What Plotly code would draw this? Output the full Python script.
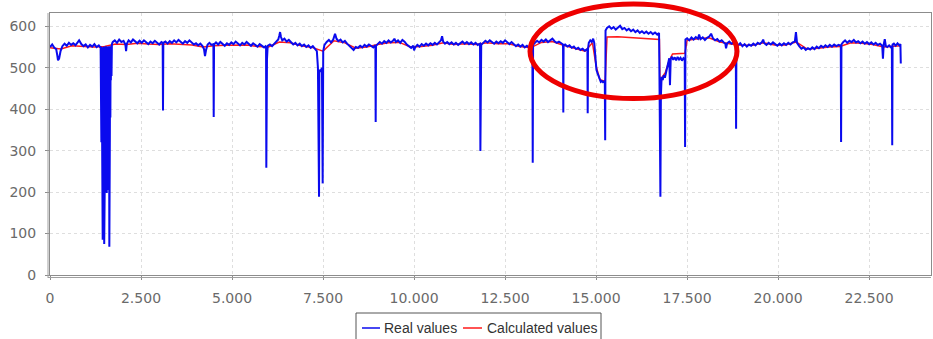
import plotly.graph_objects as go

# ---- series names -------------------------------------------------------
series_names = ["Real values", "Calculated values"]

# ---- measured signal, (sample index, value) pairs, per stretch -----------
seg_a = [(0, 550), (60, 556), (120, 548), (170, 545), (200, 530), (220, 518), (250, 522),
         (290, 540), (340, 552), (400, 558), (460, 553), (520, 560), (580, 555), (640, 559),
         (700, 554), (760, 563), (800, 566), (860, 557), (920, 552), (980, 556), (1040, 549),
         (1100, 555), (1160, 551), (1220, 557), (1280, 550), (1340, 554), (1380, 549)]
seg_b = [(1390, 552), (1397, 330), (1404, 548), (1411, 320), (1418, 550), (1425, 400),
         (1432, 546), (1440, 260), (1447, 85), (1454, 545), (1461, 280), (1468, 549),
         (1475, 240), (1482, 551), (1489, 75), (1496, 547), (1503, 210), (1510, 550),
         (1517, 205), (1524, 546), (1531, 200), (1538, 552), (1545, 215), (1552, 548),
         (1559, 198), (1566, 551), (1573, 205), (1580, 546), (1587, 230), (1594, 550),
         (1601, 260), (1608, 548), (1615, 300), (1622, 552), (1630, 68), (1637, 549),
         (1644, 330), (1651, 547), (1658, 380), (1665, 550), (1672, 470), (1680, 553),
         (1690, 480), (1700, 556), (1712, 560), (1725, 562)]
seg_c = [(1780, 566), (1840, 560), (1900, 568), (1960, 562), (2020, 565), (2070, 556),
         (2090, 540), (2110, 558), (2160, 566), (2220, 561), (2280, 568), (2340, 563),
         (2400, 559), (2460, 565), (2520, 560), (2580, 566), (2640, 561), (2700, 557),
         (2760, 563), (2820, 559), (2880, 565), (2940, 560), (3000, 556), (3060, 562),
         (3095, 560), (3104, 397), (3113, 560)]
seg_d = [(3170, 563), (3230, 558), (3290, 564), (3350, 560), (3410, 566), (3470, 561),
         (3530, 567), (3590, 562), (3650, 558), (3710, 564), (3770, 560), (3830, 566),
         (3890, 561), (3950, 556), (4010, 559), (4070, 554), (4130, 558), (4190, 552),
         (4230, 545), (4258, 528), (4285, 542), (4330, 556), (4380, 560), (4430, 555),
         (4488, 557), (4497, 381), (4506, 556)]
seg_e = [(4560, 561), (4620, 556), (4680, 562), (4740, 558), (4800, 553), (4860, 559),
         (4920, 555), (4980, 561), (5040, 557), (5100, 563), (5160, 558), (5220, 554),
         (5280, 560), (5340, 556), (5400, 562), (5460, 557), (5520, 553), (5580, 559),
         (5640, 555), (5700, 551), (5760, 557), (5820, 553), (5880, 549), (5920, 552),
         (5935, 550), (5942, 259), (5950, 505), (5960, 520), (5980, 553)]
seg_f = [(6040, 556), (6100, 552), (6160, 558), (6220, 563), (6270, 568), (6300, 578),
         (6320, 586), (6345, 574), (6380, 566), (6440, 570), (6500, 563), (6560, 567),
         (6620, 561), (6680, 556), (6740, 560), (6800, 554), (6860, 558), (6920, 552),
         (6980, 556), (7040, 550), (7100, 554), (7160, 548), (7220, 552), (7280, 546),
         (7330, 540), (7360, 500), (7390, 189), (7400, 495), (7430, 490), (7470, 500),
         (7490, 221), (7505, 540), (7540, 555)]
seg_g = [(7600, 562), (7660, 567), (7720, 561), (7780, 568), (7830, 582), (7870, 570),
         (7920, 564), (7980, 568), (8040, 561), (8100, 565), (8160, 558), (8220, 553),
         (8280, 547), (8340, 543), (8400, 550), (8460, 548), (8520, 553), (8580, 549),
         (8640, 555), (8700, 551), (8760, 556), (8820, 552), (8880, 549), (8920, 553),
         (8938, 552), (8946, 369), (8955, 553)]
seg_h = [(9000, 557), (9060, 562), (9120, 558), (9180, 564), (9240, 560), (9300, 566),
         (9360, 561), (9420, 565), (9460, 570), (9500, 562), (9560, 566), (9620, 560),
         (9680, 567), (9740, 563), (9800, 556), (9860, 551), (9920, 548), (9980, 553),
         (10000, 542), (10030, 549), (10090, 555), (10150, 551), (10210, 557), (10270, 553),
         (10330, 558), (10390, 554), (10450, 559), (10510, 555), (10570, 560), (10630, 556),
         (10690, 562), (10740, 566), (10770, 576), (10800, 563), (10850, 558), (10910, 562),
         (10970, 557), (11030, 561), (11090, 556), (11150, 560), (11210, 555), (11270, 559),
         (11330, 563), (11390, 558), (11450, 562), (11510, 557), (11570, 561), (11630, 556),
         (11690, 560), (11750, 555), (11800, 559), (11812, 558), (11822, 299), (11832, 466),
         (11845, 555)]
seg_i = [(11900, 560), (11960, 565), (12020, 561), (12080, 566), (12140, 562), (12200, 558),
         (12260, 563), (12320, 559), (12380, 564), (12440, 560), (12500, 566), (12560, 561),
         (12620, 557), (12680, 562), (12740, 556), (12800, 552), (12860, 556), (12920, 551),
         (12980, 555), (13040, 549), (13100, 553), (13160, 548), (13220, 552), (13250, 552),
         (13260, 271), (13270, 555)]
seg_j = [(13320, 560), (13380, 565), (13440, 561), (13500, 567), (13560, 563), (13620, 568),
         (13680, 562), (13740, 566), (13800, 570), (13860, 564), (13920, 560), (13980, 563),
         (14040, 558), (14080, 556), (14092, 556), (14100, 392), (14108, 554)]
seg_k = [(14150, 556), (14210, 551), (14270, 554), (14330, 548), (14390, 551), (14450, 545),
         (14510, 548), (14570, 543), (14630, 546), (14690, 541), (14740, 544), (14762, 543),
         (14770, 390), (14778, 545)]
seg_l = [(14800, 560), (14840, 566), (14880, 562), (14920, 570), (14950, 560), (14980, 530),
         (15010, 495), (15040, 487), (15070, 478), (15100, 470), (15130, 466), (15160, 468),
         (15190, 465), (15220, 467), (15240, 466), (15250, 325), (15260, 590)]
seg_m = [(15300, 596), (15360, 600), (15420, 594), (15480, 598), (15540, 592), (15600, 597),
         (15660, 601), (15720, 593), (15780, 596), (15840, 590), (15900, 594), (15960, 588),
         (16020, 592), (16080, 586), (16140, 590), (16200, 584), (16260, 588), (16320, 583),
         (16380, 587), (16440, 582), (16500, 586), (16560, 581), (16620, 585), (16680, 580),
         (16730, 584)]
seg_n = [(16745, 440), (16755, 237), (16767, 189), (16780, 430), (16800, 478), (16830, 470),
         (16860, 482), (16890, 476), (16920, 490), (16950, 500), (16980, 512), (17010, 523),
         (17030, 458), (17050, 520), (17080, 527), (17120, 519), (17160, 525), (17200, 518),
         (17240, 526), (17280, 520), (17320, 524), (17360, 517), (17400, 523), (17435, 520),
         (17445, 309), (17455, 568)]
seg_o = [(17500, 571), (17560, 566), (17620, 573), (17680, 568), (17740, 574), (17800, 570),
         (17830, 580), (17870, 569), (17930, 573), (17990, 567), (18050, 572), (18110, 575),
         (18160, 582), (18210, 571), (18270, 566), (18330, 569), (18390, 563), (18450, 566),
         (18510, 561), (18550, 558), (18570, 547), (18600, 559), (18660, 563), (18720, 558),
         (18780, 561), (18830, 558), (18838, 558), (18846, 353), (18855, 556)]
seg_p = [(18900, 554), (18960, 559), (19020, 552), (19080, 557), (19140, 551), (19200, 556),
         (19260, 553), (19320, 558), (19380, 554), (19440, 560), (19500, 557), (19560, 562),
         (19590, 568), (19620, 559), (19680, 555), (19740, 560), (19800, 556), (19860, 561),
         (19920, 557), (19980, 553), (20040, 558), (20100, 554), (20160, 559), (20220, 555),
         (20280, 560), (20340, 556), (20400, 561), (20460, 563), (20490, 586), (20520, 560),
         (20580, 552), (20640, 546), (20700, 549), (20760, 543), (20820, 547), (20880, 544),
         (20940, 549), (21000, 545), (21060, 551), (21120, 547), (21180, 553), (21240, 549),
         (21300, 554), (21360, 550), (21420, 555), (21480, 551), (21540, 556), (21600, 552),
         (21660, 555), (21710, 553), (21722, 553), (21730, 321), (21740, 556)]
seg_q = [(21780, 561), (21840, 566), (21900, 560), (21960, 565), (22020, 562), (22080, 567),
         (22140, 561), (22200, 564), (22260, 559), (22320, 563), (22380, 558), (22440, 562),
         (22500, 557), (22560, 561), (22620, 556), (22680, 560), (22740, 555), (22800, 558),
         (22860, 553), (22880, 522), (22900, 555), (22930, 569), (22960, 552), (23000, 550),
         (23050, 554), (23100, 549), (23125, 552), (23135, 313), (23145, 556), (23180, 558),
         (23230, 553), (23280, 559), (23330, 554), (23360, 557), (23370, 510)]

real_segments = [seg_a, seg_b, seg_c, seg_d, seg_e, seg_f, seg_g, seg_h, seg_i,
                 seg_j, seg_k, seg_l, seg_m, seg_n, seg_o, seg_p, seg_q]
real_x = [p[0] for s in real_segments for p in s]
real_y = [p[1] for s in real_segments for p in s]

# ---- model output -------------------------------------------------------
calc_x = [0, 300, 600, 900, 1200, 1500, 1800, 2100, 2400, 2700, 3000, 3300, 3600, 3900,
          4200, 4500, 4800, 5100, 5400, 5700, 6000, 6300, 6600, 6900, 7200, 7500, 7800,
          8100, 8400, 8700, 9000, 9300, 9600, 9900, 10200, 10500, 10800, 11100, 11400,
          11700, 12000, 12300, 12600, 12900, 13200, 13500, 13800, 14100, 14400, 14700,
          14900, 15000, 15100, 15200, 15250, 15300, 15600, 15900, 16200, 16500, 16740,
          16760, 16800, 16900, 17000, 17100, 17200, 17300, 17440, 17500, 17800, 18100,
          18400, 18700, 19000, 19300, 19600, 19900, 20200, 20500, 20800, 21100, 21400,
          21700, 22000, 22300, 22600, 22900, 23200, 23370]
calc_y = [548, 545, 553, 552, 550, 551, 557, 556, 559, 557, 556, 558, 557, 555,
          550, 553, 554, 555, 555, 551, 550, 562, 560, 553, 549, 540, 565,
          560, 547, 550, 556, 560, 561, 550, 551, 554, 560, 556, 558,
          556, 560, 558, 558, 551, 548, 561, 563, 554, 547, 540,
          560, 505, 472, 468, 470, 574, 575, 573, 571, 569, 568,
          430, 475, 488, 515, 533, 534, 535, 535, 566, 570, 572,
          562, 557, 554, 554, 560, 555, 555, 562, 545, 547, 550,
          551, 560, 559, 556, 550, 553, 553]

# ---- axes ---------------------------------------------------------------
x_ticks = [0, 2500, 5000, 7500, 10000, 12500, 15000, 17500, 20000, 22500]
y_ticks = [0, 100, 200, 300, 400, 500, 600]
x_range = [0, 24200]
y_range = [0, 632]

# plot-area placement in pixels (used for paper-space decorations)
W, H = 933, 339
ML, MR, MT, MB = 50, 2, 13, 64
PW, PH = W - ML - MR, H - MT - MB


def px(xp):
    return (xp - ML) / PW


def py(yp):
    return (H - MB - yp) / PH


fig = go.Figure()
fig.add_trace(go.Scatter(x=calc_x, y=calc_y, mode="lines", name=series_names[1],
                         line=dict(color="#ff1a1a", width=1.5), showlegend=False))
fig.add_trace(go.Scatter(x=real_x, y=real_y, mode="lines", name=series_names[0],
                         line=dict(color="#0a0aee", width=2), showlegend=False))

axis_common = dict(
    showgrid=True, gridcolor="#dedede", griddash="dot", gridwidth=1,
    showline=True, linecolor="#8c8c8c", linewidth=1, mirror=True,
    ticks="outside", ticklen=4, tickcolor="#8c8c8c",
    tickfont=dict(family="DejaVu Sans", size=14, color="#6a6a6a"),
    zeroline=False,
)

fig.update_layout(
    width=W, height=H,
    margin=dict(l=ML, r=MR, t=MT, b=MB),
    paper_bgcolor="white", plot_bgcolor="white",
    separators=",.",
    showlegend=False,
    xaxis=dict(range=x_range, tickvals=x_ticks, tickformat=",d", ticklabelstandoff=6,
               **axis_common),
    yaxis=dict(range=y_range, tickvals=y_ticks, ticklabelstandoff=6, **axis_common),
)

# second frame line along the left and bottom edges
fig.add_shape(type="line", xref="paper", yref="paper", x0=px(48), x1=px(48),
              y0=py(278), y1=py(13), line=dict(color="#a0a0a0", width=1))
fig.add_shape(type="line", xref="paper", yref="paper", x0=px(48), x1=1,
              y0=py(277.5), y1=py(277.5), line=dict(color="#a0a0a0", width=1))

# highlighted region
fig.add_shape(type="circle", xref="paper", yref="paper",
              x0=px(530), x1=px(737), y0=py(98.5), y1=py(4),
              line=dict(color="#ee0000", width=5))

# legend box with line samples
fig.add_shape(type="rect", xref="paper", yref="paper",
              x0=px(356), x1=px(601), y0=py(345), y1=py(313),
              line=dict(color="#555555", width=1), fillcolor="white")
legend_y = py(328)
fig.add_shape(type="line", xref="paper", yref="paper",
              x0=px(362), x1=px(380), y0=legend_y, y1=legend_y,
              line=dict(color="#0a0aee", width=1.5))
fig.add_shape(type="line", xref="paper", yref="paper",
              x0=px(463), x1=px(482), y0=legend_y, y1=legend_y,
              line=dict(color="#ff1a1a", width=1.5))
for name, xp in zip(series_names, [382, 485]):
    fig.add_annotation(text=name, xref="paper", yref="paper", x=px(xp), y=legend_y,
                       xanchor="left", yanchor="middle", showarrow=False,
                       font=dict(family="Liberation Sans", size=14, color="#333333"))

fig.write_html("out.html")
